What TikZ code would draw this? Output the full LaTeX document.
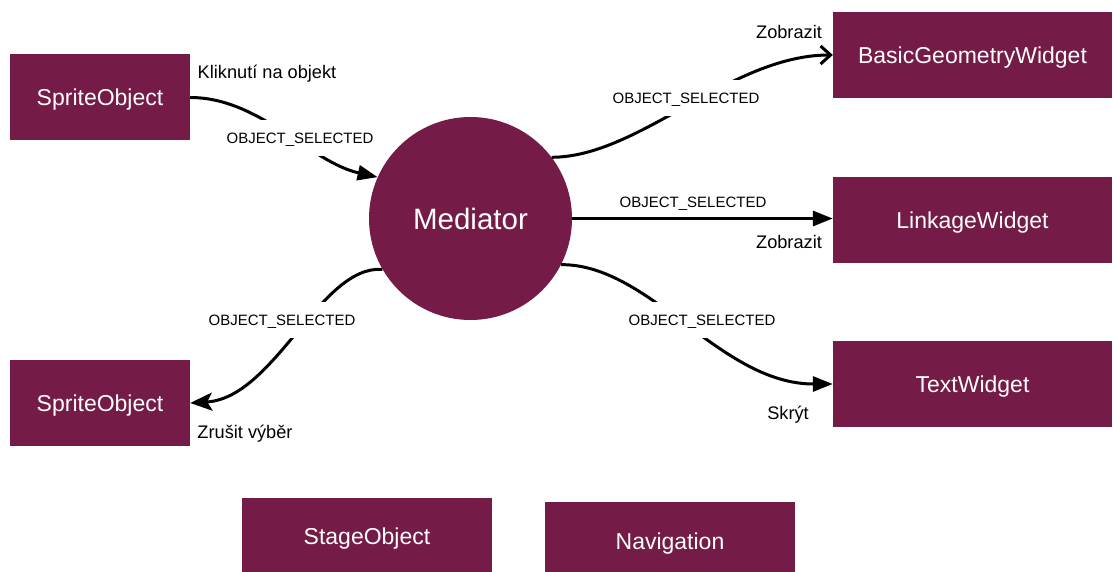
\documentclass[tikz,border=0pt]{standalone}
\usepackage{fontspec}
\setmainfont{Liberation Sans}
\usetikzlibrary{arrows.meta}
\definecolor{plum}{RGB}{116,27,71}
\begin{document}
\begin{tikzpicture}[x=1pt,y=-1pt,
  box/.style={fill=plum, text=white, minimum width=180pt, minimum height=86pt, inner sep=0pt, text depth=0pt, font=\fontsize{23}{27}\selectfont},
  conn/.style={line width=3pt},
  sig/.style={fill=white, inner xsep=3pt, inner ysep=13pt, text depth=0pt, font=\fontsize{15}{17}\selectfont},
  sigplain/.style={inner sep=0pt, text depth=0pt, font=\fontsize{15}{17}\selectfont},
  act/.style={font=\fontsize{18.2}{21}\selectfont, text depth=0pt, inner sep=0pt},
  tri/.style={-{Triangle[length=20pt,width=15pt]}}
]
\clip (0,0) rectangle (1113,572);
\fill[white] (0,0) rectangle (1113,572);

\node[box] (s1) at (100,97.5) {SpriteObject};
\node[box] (s2) at (100,403) {SpriteObject};
\node[box, minimum width=279pt] (bgw) at (972.5,55) {BasicGeometryWidget};
\node[box, minimum width=279pt] (lw) at (972.5,220) {LinkageWidget};
\node[box, minimum width=279pt] (tw) at (972.5,384) {TextWidget};
\node[box, minimum width=250pt, minimum height=76pt] (so) at (367,536) {StageObject};
\node[box, minimum width=250pt, minimum height=78pt] (nav) at (670,541) {Navigation};
\node[circle, fill=plum, text=white, minimum size=203pt, inner sep=0pt, text depth=0pt, font=\fontsize{29.5}{34}\selectfont] (m) at (470.5,218.5) {Mediator};

\draw[conn,tri] (s1.east) .. controls (260,97.5) and (310,162) .. (m.156.5);
\draw[conn,-{Straight Barb[length=10pt,width=18pt]}] (m.37) .. controls (640,157) and (730,55) .. (bgw.west);
\draw[conn,tri] (m.0) -- (m.0 -| lw.west);
\draw[conn,tri] (m.-27) .. controls (650,264) and (720,384) .. (tw.west);
\draw[conn,-{Stealth[length=22pt,width=18pt,inset=5pt]}] (m.210.5) .. controls (320,265) and (275,398) .. (s2.east);

\node[sig] (l1) at (300,138) {OBJECT\_SELECTED};
\node[sig] (l2) at (686,98) {OBJECT\_SELECTED};
\node[sigplain] (l3) at (693,202) {OBJECT\_SELECTED};
\node[sig] (l4) at (702,320) {OBJECT\_SELECTED};
\node[sig] (l5) at (282,320) {OBJECT\_SELECTED};

\node[act] (a1) at (267,72) {Kliknutí na objekt};
\node[act] (a2) at (789,32) {Zobrazit};
\node[act] (a3) at (789,242) {Zobrazit};
\node[act] (a4) at (788,413) {Skrýt};
\node[act] (a5) at (245,432) {Zrušit výběr};
\end{tikzpicture}
\end{document}
